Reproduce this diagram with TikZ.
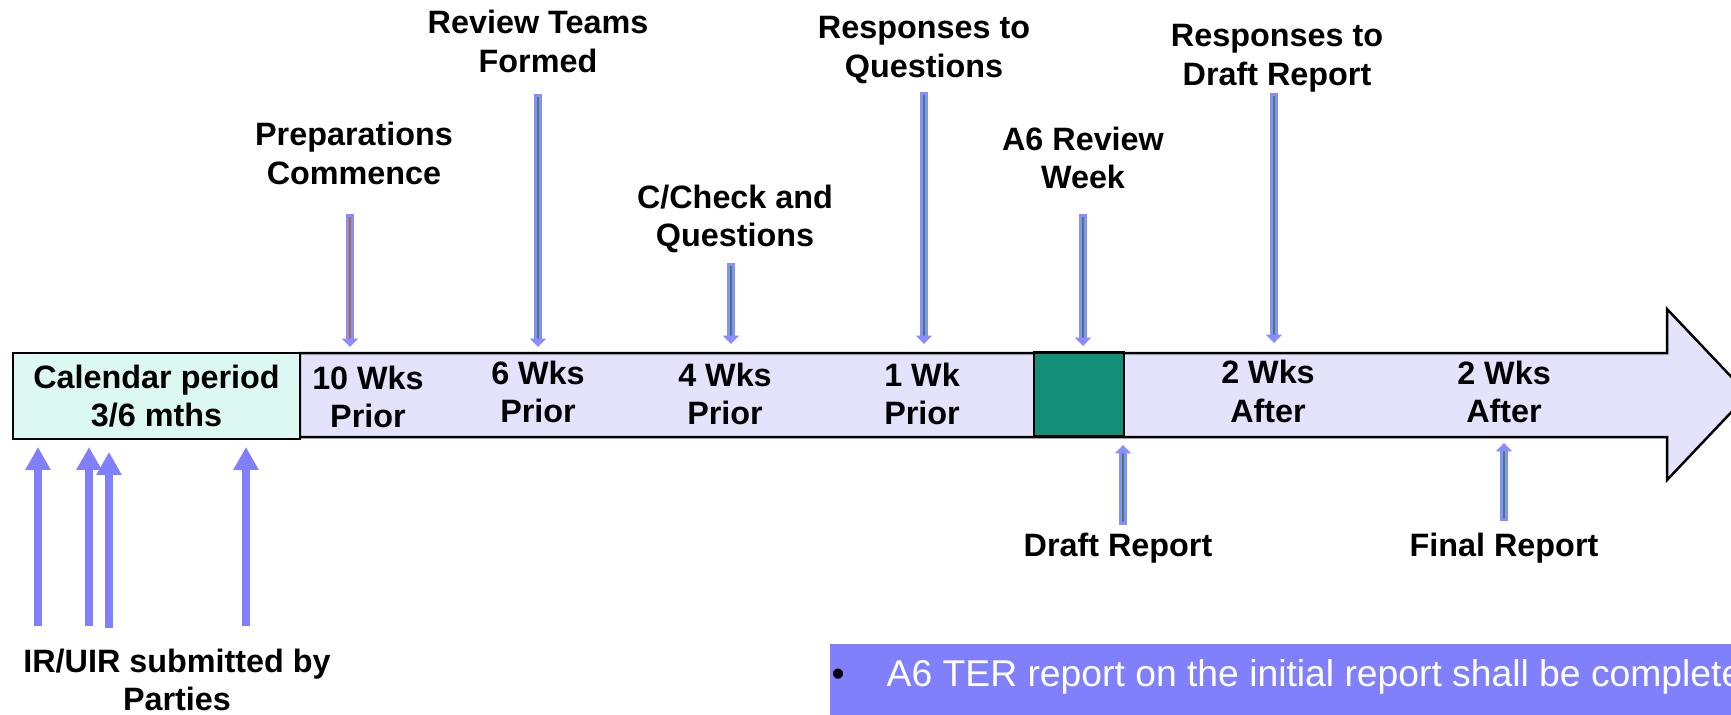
\documentclass[tikz,border=0pt]{standalone}
\usepackage{fontspec}
\setmainfont{Liberation Sans}
\usepackage{xcolor}
\usetikzlibrary{arrows.meta}
\definecolor{bandfill}{RGB}{227,227,252}
\definecolor{calfill}{RGB}{220,248,243}
\definecolor{weekgreen}{RGB}{18,143,118}
\definecolor{tickpurple}{RGB}{140,140,255}
\definecolor{tickgreen}{RGB}{50,140,90}
\definecolor{tickbrown}{RGB}{170,110,40}
\definecolor{subpurple}{RGB}{128,128,252}
\tikzstyle{lbl} = [font=\bfseries\fontsize{9.2}{11}\selectfont, align=center, inner sep=0pt]

\begin{document}
\begin{tikzpicture}[x=0.01cm, y=-0.01cm]
    \tikzstyle{tick} = [draw=tickpurple, line width=0.75pt, double=tickgreen, double distance=0.55pt, line cap=rect, -{Triangle[width=4.6pt,length=2.4pt]}]
    \tikzstyle{submit} = [draw=subpurple, line width=2.3pt, -{Triangle[width=6.8pt,length=6.5pt]}]
    \clip (0,0) rectangle (1731,714);
    % timeline band
    \draw[line width=0.7pt, fill=bandfill] (300,353) -- (1667,353) -- (1667,309) -- (1748,394.5) -- (1667,480) -- (1667,437) -- (300,437) -- cycle;
    \node[lbl, draw, line width=0.7pt, fill=calfill, minimum width=2.87cm, minimum height=0.86cm] (cal) at (156.5,396) {Calendar period\\3/6 mths};
    \node[draw, line width=0.7pt, fill=weekgreen, minimum width=0.9cm, minimum height=0.84cm] (week) at (1079,394.5) {};
    \node[lbl] (w10) at (368,397) {10 Wks\\Prior};
    \node[lbl] (w6) at (538,392) {6 Wks\\Prior};
    \node[lbl] (w4) at (725,394) {4 Wks\\Prior};
    \node[lbl] (w1) at (922,394) {1 Wk\\Prior};
    \node[lbl] (a2) at (1268,391.5) {2 Wks\\After};
    \node[lbl] (f2) at (1504,392) {2 Wks\\After};
    % milestones above
    \node[lbl] (prep) at (354,153.5) {Preparations\\Commence};
    \node[lbl] (teams) at (538,41.5) {Review Teams\\Formed};
    \node[lbl] (check) at (735,219) {C/Check and\\Questions};
    \node[lbl] (respq) at (924,50) {Responses to\\Questions};
    \node[lbl] (review) at (1083,158) {A6 Review\\Week};
    \node[lbl] (respd) at (1277,58) {Responses to\\Draft Report};
    \coordinate (prep-s) at (350,218); \coordinate (prep-e) at (350,347);
    \coordinate (teams-s) at (538,98); \coordinate (teams-e) at (538,347);
    \coordinate (check-s) at (731,267); \coordinate (check-e) at (731,344);
    \coordinate (respq-s) at (924,96); \coordinate (respq-e) at (924,344);
    \coordinate (review-s) at (1083,218); \coordinate (review-e) at (1083,346);
    \coordinate (respd-s) at (1274,97); \coordinate (respd-e) at (1274,343);
    \draw[tick, double=tickbrown] (prep-s) -- (prep-e);
    \draw[tick] (teams-s) -- (teams-e);
    \draw[tick] (check-s) -- (check-e);
    \draw[tick] (respq-s) -- (respq-e);
    \draw[tick] (review-s) -- (review-e);
    \draw[tick] (respd-s) -- (respd-e);
    % reports below
    \node[lbl] (draft) at (1118,548) {Draft Report};
    \node[lbl] (final) at (1504,548) {Final Report};
    \coordinate (draft-s) at (1123,521); \coordinate (draft-e) at (1123,445);
    \coordinate (final-s) at (1504,517); \coordinate (final-e) at (1504,443);
    \draw[tick] (draft-s) -- (draft-e);
    \draw[tick] (final-s) -- (final-e);
    % submissions
    \node[lbl] (irs) at (177,680) {IR/UIR submitted by\\Parties};
    \coordinate (s1) at (38,626); \coordinate (e1) at (38,447);
    \coordinate (s2) at (89,626); \coordinate (e2) at (89,447);
    \coordinate (s3) at (109,628); \coordinate (e3) at (109,452);
    \coordinate (s4) at (246,626); \coordinate (e4) at (246,447);
    \draw[submit] (s1) -- (e1);
    \draw[submit] (s2) -- (e2);
    \draw[submit] (s3) -- (e3);
    \draw[submit] (s4) -- (e4);
    % note bar
    \node[fill=subpurple, inner sep=0pt, minimum width=9.02cm, minimum height=0.71cm, anchor=north west] (note) at (829,643) {};
    \node[anchor=base west, inner sep=0pt, font=\fontsize{10.6}{12}\selectfont] (dot) at (831,686) {•};
    \node[anchor=base west, inner sep=0pt, text=white, font=\fontsize{10.6}{12}\selectfont] (notetext) at (886,686) {A6 TER report on the initial report shall be complete};
\end{tikzpicture}
\end{document}
